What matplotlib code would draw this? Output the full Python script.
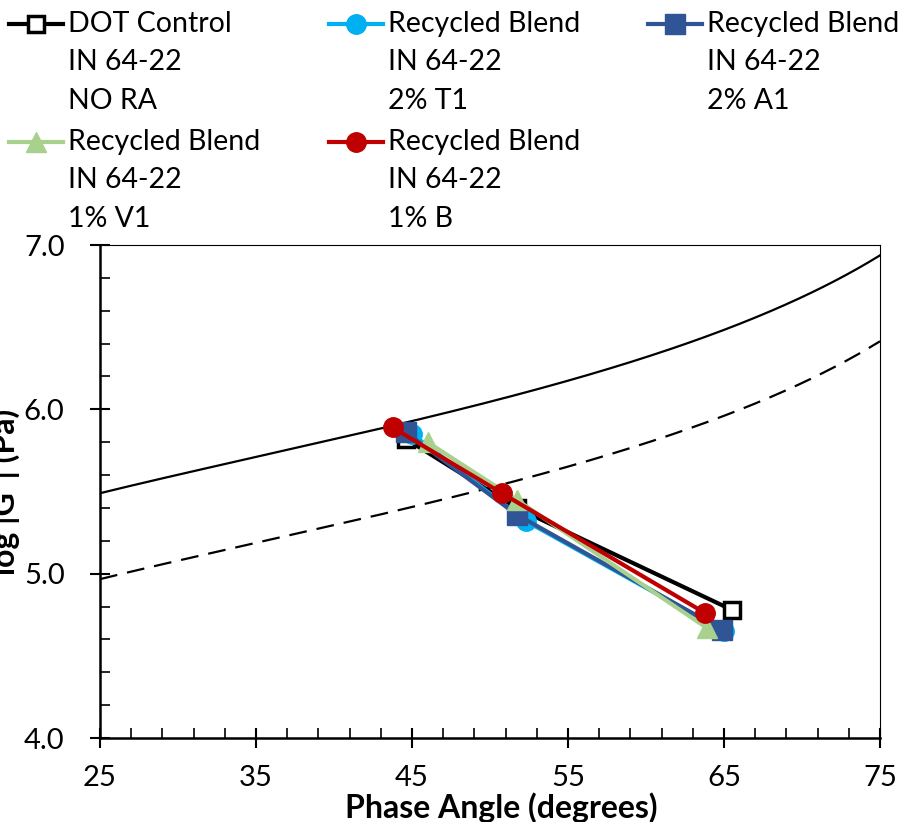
"""Black space diagram: log |G*| vs phase angle with Glover-Rowe damage lines."""

import matplotlib

matplotlib.use("Agg")

import matplotlib.pyplot as plt
import numpy as np
from matplotlib.lines import Line2D
from matplotlib.ticker import FormatStrFormatter, MultipleLocator

plt.rcParams["font.family"] = ["Lato", "DejaVu Sans"]

# Glover-Rowe thresholds (Pa): onset of damage (dashed) and significant cracking (solid)
GR_ONSET = 180e3
GR_CRACKING = 600e3
CURVE_START, CURVE_END = 25.0, 75.0

SERIES_NAMES = ["DOT Control", "Recycled Blend", "Recycled Blend", "Recycled Blend", "Recycled Blend"]
SERIES_DETAILS = [
    ["IN 64-22", "NO RA"],
    ["IN 64-22", "2% T1"],
    ["IN 64-22", "2% A1"],
    ["IN 64-22", "1% V1"],
    ["IN 64-22", "1% B"],
]

# phase angle (degrees), log |G*| (Pa)
dot_phase = [44.6, 51.7, 65.5]
dot_logg = [5.82, 5.40, 4.78]
t1_phase = [45.0, 52.3, 65.0]
t1_logg = [5.85, 5.32, 4.65]
a1_phase = [44.6, 51.7, 64.85]
a1_logg = [5.86, 5.36, 4.66]
v1_phase = [46.0, 51.7, 63.9]
v1_logg = [5.80, 5.45, 4.67]
b_phase = [43.75, 50.75, 63.8]
b_logg = [5.89, 5.49, 4.76]

STYLES = [
    dict(color="black", marker="s", markersize=11, markerfacecolor="white",
         markeredgecolor="black", markeredgewidth=2.5),
    dict(color="#00B0F0", marker="o", markersize=14),
    dict(color="#2F5597", marker="s", markersize=14),
    dict(color="#A9D18E", marker="^", markersize=14),
    dict(color="#C00000", marker="o", markersize=14),
]


def glover_rowe_curve(gr, phase_deg):
    rad = np.radians(phase_deg)
    return np.log10(gr * np.sin(rad) / np.cos(rad) ** 2)


def draw_legend(fig):
    # Excel-style legend: three columns, handle next to the first line of each label
    col_x = [9, 329, 648]
    row_y = [24, 142]
    line_gap = 38.5
    W, H = fig.get_size_inches() * fig.dpi
    for i, (name, details) in enumerate(zip(SERIES_NAMES, SERIES_DETAILS)):
        x0 = col_x[i % 3]
        y0 = row_y[i // 3]
        style = {k: v for k, v in STYLES[i].items() if not k.startswith("marker")}
        fig.add_artist(Line2D([x0 / W, (x0 + 54) / W], [1 - y0 / H, 1 - y0 / H],
                              transform=fig.transFigure, linewidth=3, **style))
        fig.add_artist(Line2D([(x0 + 27) / W], [1 - y0 / H], transform=fig.transFigure,
                              linestyle="none", **STYLES[i]))
        for k, line in enumerate([name] + details):
            fig.text((x0 + 59) / W, 1 - (y0 + k * line_gap) / H, line,
                     ha="left", va="center", fontsize=20.5)


fig = plt.figure(figsize=(9.05, 8.22), dpi=100)
ax = fig.add_axes([100 / 905, 1 - 738 / 822, 780 / 905, 493 / 822])

phase = np.linspace(CURVE_START, CURVE_END, 400)
ax.plot(phase, glover_rowe_curve(GR_CRACKING, phase), color="black", linewidth=1.6)
ax.plot(phase, glover_rowe_curve(GR_ONSET, phase), color="black", linewidth=1.6,
        dashes=(8, 4.5))

for xs, ys, style in zip(
    [dot_phase, t1_phase, a1_phase, v1_phase, b_phase],
    [dot_logg, t1_logg, a1_logg, v1_logg, b_logg],
    STYLES,
):
    ax.plot(xs, ys, linewidth=3, **style)

ax.set_xlim(25, 75)
ax.set_ylim(4.0, 7.0)
ax.xaxis.set_major_locator(MultipleLocator(10, offset=5))
ax.xaxis.set_minor_locator(MultipleLocator(2, offset=1))
ax.yaxis.set_major_locator(MultipleLocator(1))
ax.yaxis.set_minor_locator(MultipleLocator(0.2))
ax.yaxis.set_major_formatter(FormatStrFormatter("%.1f"))

ax.tick_params(which="major", direction="inout", length=15, width=1.5, labelsize=21)
ax.tick_params(which="minor", direction="in", length=7, width=1.2)
ax.tick_params(axis="x", which="major", pad=12)
ax.tick_params(axis="y", which="major", pad=18)

for side in ("left", "bottom"):
    ax.spines[side].set_linewidth(1.8)
for side in ("top", "right"):
    ax.spines[side].set_linewidth(0.8)

ax.set_xlabel("Phase Angle (degrees)", fontsize=23, fontweight="bold")
ax.xaxis.set_label_coords(0.515, -0.11)
ax.set_ylabel("log |G*| (Pa)", fontsize=23, fontweight="bold")
ax.yaxis.set_label_coords(-0.102, 0.5)

draw_legend(fig)

fig.savefig("out.png", dpi=100)
